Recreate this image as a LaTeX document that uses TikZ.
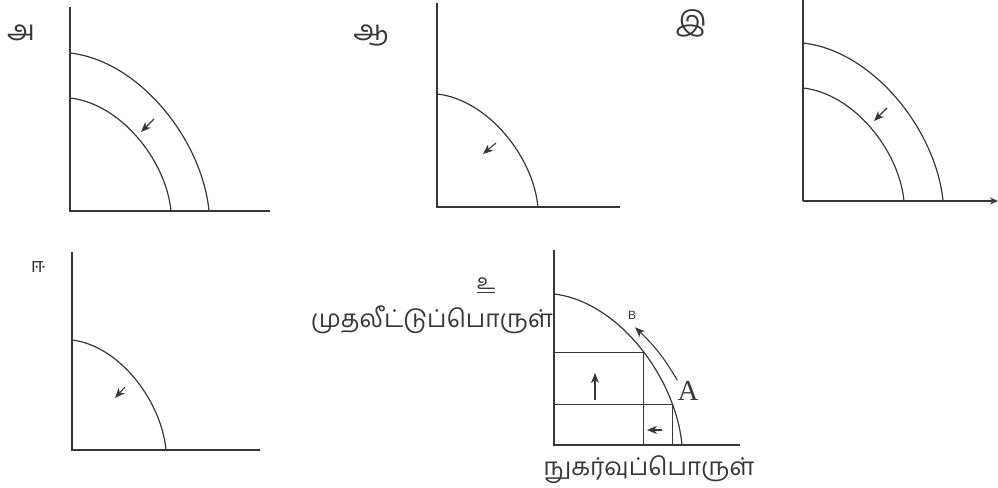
\documentclass[tikz,border=0pt]{standalone}
\usepackage{fontspec}
\newfontfamily\tamil[Script=Tamil]{Hind Madurai}
\newfontfamily\serifA{Liberation Serif}
\newfontfamily\sansB{Liberation Sans}
\usepackage{xcolor}
\definecolor{inkgray}{RGB}{55,55,55}
\usetikzlibrary{arrows.meta,positioning,calc}

\begin{document}
\begin{tikzpicture}[x=1pt, y=1pt,
  axis/.style={draw=inkgray, line width=1.8pt},
  ppf/.style={draw=inkgray, line width=1.2pt},
  grid/.style={draw=inkgray, line width=0.8pt},
  move/.style={draw=inkgray, line width=1.1pt, -{Stealth[length=10pt,width=8pt,inset=3pt]}},
  tag/.style={font=\tamil\fontsize{28}{28}\selectfont, text=inkgray, inner sep=0pt},
  goods/.style={font=\tamil\fontsize{24.5}{24.5}\selectfont, text=inkgray, inner sep=0pt}
]
  \useasboundingbox (0,0) rectangle (998,487);

  %% Panel 1: two frontiers, shift inward
  \node[tag] (ta) at (21,454) {அ};
  \coordinate (o1) at (70,276);
  \draw[axis] (70,480) -- (o1) -- (270,276);
  \draw[ppf] (70,434) .. controls (139.5,426.1) and (202.1,347.1) .. (209,276);
  \draw[ppf] (70,389) .. controls (120.5,383.4) and (166.0,326.9) .. (171,276);
  \draw[move] (154,368) -- (141,355);

  %% Panel 2: single frontier
  \node[tag] (tb) at (371,452) {ஆ};
  \coordinate (o2) at (437,280);
  \draw[axis] (437,484) -- (o2) -- (620,280);
  \draw[ppf] (437,393) .. controls (487.5,387.4) and (533.0,330.9) .. (538,280);
  \draw[move] (496,344) -- (483,333);

  %% Panel 3: two frontiers, arrow on x axis
  \node[tag] (tc) at (691,464) {இ};
  \coordinate (o3) at (803,286);
  \draw[axis] (803,487) -- (o3);
  \draw[axis, -{Stealth[length=8pt,width=7pt]}] (o3) -- (998,286);
  \draw[ppf] (803,444) .. controls (873,436.1) and (936,357.1) .. (943,286);
  \draw[ppf] (803,399) .. controls (853.5,393.4) and (899.0,336.9) .. (904,286);
  \draw[move] (887,379) -- (874,366);

  %% Panel 4: single frontier
  \node[tag, font=\tamil\fontsize{20}{20}\selectfont] (td) at (38,220) {ஈ};
  \coordinate (o4) at (72,37);
  \draw[axis] (72,235) -- (o4) -- (260,37);
  \draw[ppf] (72,147) .. controls (119,141.5) and (161.3,86.5) .. (166,37);
  \draw[move] (125,100) -- (115,89);

  %% Panel 6: frontier with goods labels
  \node[tag, font=\tamil\fontsize{21}{21}\selectfont] (te) at (486,203) {உ};
  \draw[inkgray, line width=0.8pt] ([yshift=-2pt]te.south west) -- ([yshift=-2pt]te.south east);
  \coordinate (o6) at (554,42);
  \draw[axis] (554,237) -- (o6) -- (740,42);
  \draw[ppf] (554,193) .. controls (618,185.5) and (675.6,110.0) .. (682,42)
    coordinate[pos=0.53] (pa) coordinate[pos=0.8] (pb);
  \draw[grid] (o6 |- pa) -- (pa) -- (o6 -| pa);
  \draw[grid] (o6 |- pb) -- (pb) -- (o6 -| pb);
  \draw[move] (595,87) -- (595,114);
  \draw[move] (662,57) -- (647,57);
  \node[goods, anchor=east] (cap) at (553,167) {முதலீட்டுப்பொருள்};
  \node[goods] (con) at (649,17) {நுகர்வுப்பொருள்};
  \node[font=\serifA\fontsize{29}{29}\selectfont, text=inkgray, inner sep=0pt] (A) at (688,96) {A};
  \node[font=\sansB\fontsize{12}{12}\selectfont, text=inkgray, inner sep=0pt] (B) at (632,172) {B};
  \draw[move] ([shift={(0,1)}]A.north west) to[bend right=8] ([shift={(3,-8)}]B.south);
\end{tikzpicture}
\end{document}
